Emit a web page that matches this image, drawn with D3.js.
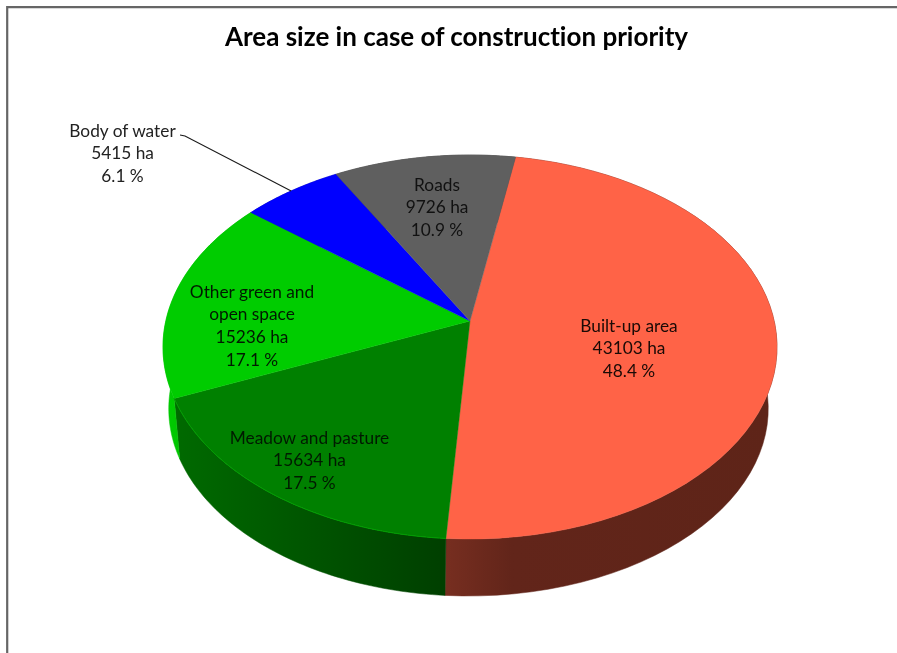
<!DOCTYPE html>
<html><head><meta charset="utf-8">
<script src="https://cdn.jsdelivr.net/npm/d3@7/dist/d3.min.js"></script>
<style>html,body{margin:0;padding:0;background:#fff}svg{display:block;filter:blur(0.45px)}text{font-variant-ligatures:none}</style>
</head><body><svg id="c" width="897" height="653"></svg>
<script>
const categories = ["Built-up area","Meadow and pasture","Other green and open space","Body of water","Roads"];
const hectares = [43103,15634,15236,5415,9726];
const percents = ["48.4 %","17.5 %","17.1 %","6.1 %","10.9 %"];
const labelLines = [["Built-up area"],["Meadow and pasture"],["Other green and","open space"],["Body of water"],["Roads"]];
const topColors = ["#ff6347","#008000","#00cc00","#0000ff","#5f5f5f"];
const wallStart = ["#772e20","#006a00","#00cc00","#0000aa","#3a3a3a"];
const wallEnd = ["#62251a","#003f00","#00a800","#0000aa","#3a3a3a"];
const titleText = "Area size in case of construction priority";

const svg = d3.select("#c");
const W = 897, H = 653;
const deg = Math.PI/180;

// perspective disc projection
const k = 0.1354;
function project(theta, cx, cy, b, a){
  const x = Math.sin(theta), y = -Math.cos(theta), w = 1 - k*y;
  return [cx + b*x/w, cy + a*y/w];
}
const topDisc = {cx:470, cy:321, b:304.2, a:188.5};
const botDisc = {cx:468.5, cy:383.4, b:297, a:183.8};
const P = (t,d)=>project(t,d.cx,d.cy,d.b,d.a);

const pie = d3.pie().sort(null).startAngle(9.8*deg).endAngle(369.8*deg);
const arcs = pie(hectares);
const line = d3.line();
function arcPts(a0,a1,d){
  return d3.range(0,61).map(i=>P(a0+(a1-a0)*i/60,d));
}

const defs = svg.append("defs");
// frame
svg.append("rect").attr("width",W).attr("height",H).attr("fill","#fff");
svg.append("path").attr("d",line([[7.2,H],[7.2,7.2],[W,7.2]])).attr("fill","none").attr("stroke","#666").attr("stroke-width",2.2);

// walls
arcs.forEach((d,i)=>{
  const id="w"+i;
  const pts=arcPts(d.startAngle,d.endAngle,topDisc);
  const lo=arcPts(d.startAngle,d.endAngle,botDisc);
  const xs=pts.concat(lo).map(p=>p[0]);
  const ex=d3.extent(xs);
  const g=defs.append("linearGradient").attr("id",id).attr("gradientUnits","userSpaceOnUse")
    .attr("x1",ex[0]).attr("x2",ex[1]).attr("y1",0).attr("y2",0);
  if(i===0){
    g.append("stop").attr("offset",0).attr("stop-color",wallStart[i]);
    g.append("stop").attr("offset",0.2).attr("stop-color",wallEnd[i]);
    g.append("stop").attr("offset",1).attr("stop-color","#5e2418");
  } else {
    g.append("stop").attr("offset",0).attr("stop-color",wallStart[i]);
    g.append("stop").attr("offset",1).attr("stop-color",wallEnd[i]);
  }
  svg.append("path").attr("d",line(pts.concat(lo.reverse()))+"Z").attr("fill",`url(#${id})`).attr("stroke",`url(#${id})`).attr("stroke-width",.5);
});

// top faces
const apex=[topDisc.cx,topDisc.cy];
arcs.forEach((d,i)=>{
  svg.append("path").attr("d",line([apex].concat(arcPts(d.startAngle,d.endAngle,topDisc)))+"Z")
    .attr("fill",topColors[i]).attr("stroke",topColors[i]).attr("stroke-width",.4);
});
// rim highlight on the meadow slice
svg.append("path").attr("d",line(arcPts(arcs[1].startAngle,arcs[1].endAngle,topDisc)))
  .attr("fill","none").attr("stroke","#00a000").attr("stroke-width",.9);

// leader
const leaderMid=(arcs[3].startAngle+arcs[3].endAngle)/2;
const lp=P(leaderMid,topDisc);
svg.append("path").attr("d",line([[180,135],[185,136],lp])).attr("fill","none").attr("stroke","#1a1a1a").attr("stroke-width",1.1);

// title
svg.append("text").attr("x",456.5).attr("y",45.6).attr("text-anchor","middle")
  .attr("font-family","Lato").attr("font-weight",700).attr("font-size",26).attr("fill","#000").text(titleText);

// labels
const labelPos=[[629,331.7],[309.5,443.7],[252,297.7],[122.5,136.7],[437,190.7]];
const labelFill=["#1a0a06","#001a00","#001a00","#222","#111"];
arcs.forEach((d,i)=>{
  const lines=labelLines[i].concat([hectares[i]+" ha",percents[i]]);
  const t=svg.append("text").attr("text-anchor","middle").attr("font-family","Lato").attr("font-size",17.3).attr("fill",labelFill[i]);
  lines.forEach((s,j)=>t.append("tspan").attr("x",labelPos[i][0]).attr("y",labelPos[i][1]+j*22.7).text(s));
});
</script></body></html>
